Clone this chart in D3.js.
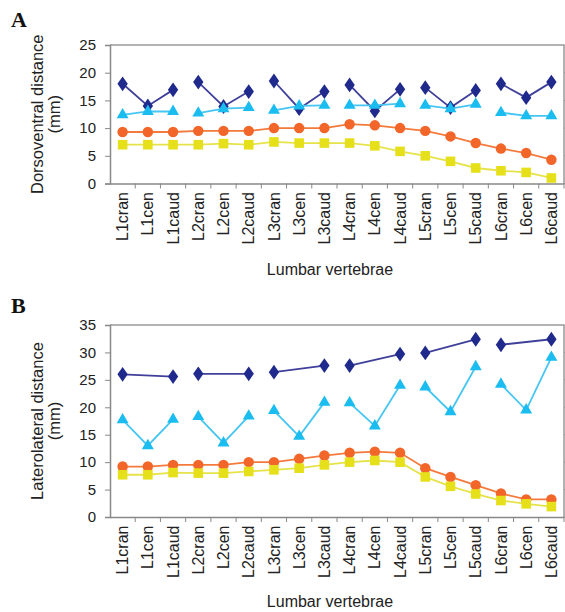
<!DOCTYPE html>
<html><head><meta charset="utf-8">
<script src="https://cdn.jsdelivr.net/npm/d3@7"></script>
<style>body{margin:0;background:#fff}svg{display:block}</style>
</head><body><svg id="c" width="565" height="612"></svg>
<script>
const categories = ["L1cran","L1cen","L1caud","L2cran","L2cen","L2caud","L3cran","L3cen","L3caud","L4cran","L4cen","L4caud","L5cran","L5cen","L5caud","L6cran","L6cen","L6caud"];
const yTicksA = [0,5,10,15,20,25];
const yTicksB = [0,5,10,15,20,25,30,35];

// Panel A (dorsoventral)
const aDark   = [18.0,14.0,16.9,18.3,13.9,16.6,18.5,13.5,16.6,17.8,13.1,17.0,17.3,13.7,16.8,18.0,15.5,18.3];
const aLight  = [12.4,13.0,13.0,12.7,13.5,13.7,13.2,14.0,14.1,14.1,14.1,14.4,14.1,13.5,14.3,12.8,12.2,12.2];
const aOrange = [9.3,9.3,9.3,9.5,9.5,9.5,10.0,10.0,10.0,10.7,10.5,10.0,9.5,8.5,7.3,6.3,5.5,4.3];
const aYellow = [7.0,7.0,7.0,7.0,7.2,7.0,7.5,7.3,7.3,7.3,6.8,5.8,5.0,4.0,2.8,2.3,2.0,1.0];

// Panel B (laterolateral)
const bDark   = [26.0,null,25.6,26.1,null,26.1,26.4,null,27.6,27.6,null,29.7,29.9,null,32.4,31.4,null,32.4];
const bLight  = [17.7,13.0,17.8,18.3,13.5,18.4,19.4,14.7,20.9,20.8,16.6,24.0,23.7,19.2,27.4,24.2,19.5,29.1];
const bOrange = [9.2,9.2,9.5,9.5,9.5,10.0,10.0,10.6,11.2,11.7,11.9,11.7,8.9,7.3,5.8,4.3,3.2,3.2];
const bYellow = [7.7,7.7,8.1,8.0,8.0,8.3,8.6,8.9,9.5,10.0,10.3,10.0,7.3,5.6,4.2,3.0,2.4,1.9];

const svg = d3.select("#c");
const FONT = "'Liberation Sans', Arial, sans-serif";

const styles = {
  dark:   {line:"#3f4099", fill:"#1f2a8c", sym:d3.symbolDiamond, size:70, segmented:true},
  light:  {line:"#45c6f2", fill:"#1bbcf0", sym:d3.symbolTriangle, size:62, segmented:true},
  orange: {line:"#f47a3c", fill:"#f2662a", sym:d3.symbolCircle, size:86, segmented:false},
  yellow: {line:"#e6e34a", fill:"#e6e01a", sym:d3.symbolSquare, size:92, segmented:false}
};

function panel(o){
  const x = d3.scaleBand().domain(categories).range([110,564]);
  const y = d3.scaleLinear().domain([0,o.max]).range([o.y0,o.y1]);
  const g = svg.append("g");
  // frame top/right
  g.append("line").attr("x1",110).attr("x2",564).attr("y1",o.y1).attr("y2",o.y1).attr("stroke","#999").attr("stroke-width",1.5);
  g.append("line").attr("x1",564).attr("x2",564).attr("y1",o.y1).attr("y2",o.y0).attr("stroke","#999").attr("stroke-width",1.5);
  g.selectAll(".rt").data(o.ticks).join("line").attr("x1",564).attr("x2",568)
    .attr("y1",d=>y(d)).attr("y2",d=>y(d)).attr("stroke","#999");
  // y axis
  const ya = g.append("g").attr("transform","translate(110,0)")
    .call(d3.axisLeft(y).tickValues(o.ticks).tickSize(5).tickPadding(9).tickFormat(d3.format("d")));
  ya.select(".domain").attr("stroke","#888").attr("stroke-width",1.5);
  ya.selectAll(".tick line").attr("stroke","#888");
  ya.selectAll("text").attr("font-family",FONT).attr("font-size",15).attr("fill","#222");
  // x axis
  const xa = g.append("g").attr("transform",`translate(0,${o.y0})`)
    .call(d3.axisBottom(x).tickSize(0).tickSizeOuter(0));
  xa.select(".domain").attr("stroke","#888").attr("stroke-width",1.5);
  xa.selectAll(".tick line").remove();
  xa.selectAll(".tick text")
    .attr("font-family",FONT).attr("font-size",16).attr("fill","#222")
    .attr("transform","rotate(-90)").attr("text-anchor","end")
    .attr("x",-8.5).attr("y",0).attr("dy","0.35em");
  // tick marks between categories
  const bnd = x.bandwidth();
  g.selectAll(".xt").data(categories).join("line")
    .attr("x1",d=>x(d)+bnd).attr("x2",d=>x(d)+bnd)
    .attr("y1",o.y0).attr("y2",o.y0+5).attr("stroke","#888");
  // titles
  const cy = (o.y0+o.y1)/2;
  g.append("text").attr("transform",`translate(37,${cy}) rotate(-90)`)
    .attr("text-anchor","middle").attr("dominant-baseline","central")
    .attr("font-family",FONT).attr("font-size",16.5).attr("fill","#222").text(o.title1);
  g.append("text").attr("transform",`translate(54,${cy}) rotate(-90)`)
    .attr("text-anchor","middle").attr("dominant-baseline","central")
    .attr("font-family",FONT).attr("font-size",16.5).attr("fill","#222").text("(mm)");
  g.append("text").attr("x",330).attr("y",o.xTitleY).attr("text-anchor","middle")
    .attr("font-family",FONT).attr("font-size",16).attr("fill","#222").text("Lumbar vertebrae");
  g.append("text").attr("x",11).attr("y",o.letterY)
    .attr("font-family","'Liberation Serif','DejaVu Serif',serif").attr("font-weight","bold")
    .attr("font-size",22).attr("fill","#111").text(o.letter);

  const cx = d => x(d)+bnd/2;
  const line = d3.line().x(p=>cx(p.c)).y(p=>y(p.v));
  o.series.forEach(s=>{
    const st = styles[s.key];
    const pts = categories.map((c,i)=>({c,v:s.vals[i],i})).filter(p=>p.v!=null);
    let groups;
    if(st.segmented){
      groups = d3.groups(pts,p=>Math.floor(p.i/3)).map(d=>d[1]);
    } else groups=[pts];
    groups.forEach(gp=>{
      g.append("path").attr("d",line(gp)).attr("fill","none")
        .attr("stroke",st.line).attr("stroke-width",1.8);
    });
    g.selectAll(null).data(pts).join("path")
      .attr("d",d3.symbol().type(st.sym).size(st.size))
      .attr("transform",p=>{
        const sx = st.sym===d3.symbolDiamond ? "scale(1.15,0.95)" : "";
        return `translate(${cx(p.c)},${y(p.v)}) ${sx}`;
      })
      .attr("fill",st.fill);
  });
}

panel({max:25,ticks:yTicksA,y0:183.5,y1:45,title1:"Dorsoventral distance",xTitleY:275,letter:"A",letterY:27,
  series:[{key:"dark",vals:aDark},{key:"light",vals:aLight},{key:"orange",vals:aOrange},{key:"yellow",vals:aYellow}]});
panel({max:35,ticks:yTicksB,y0:517,y1:325,title1:"Laterolateral distance",xTitleY:607,letter:"B",letterY:313,
  series:[{key:"dark",vals:bDark},{key:"light",vals:bLight},{key:"orange",vals:bOrange},{key:"yellow",vals:bYellow}]});
</script></body></html>
